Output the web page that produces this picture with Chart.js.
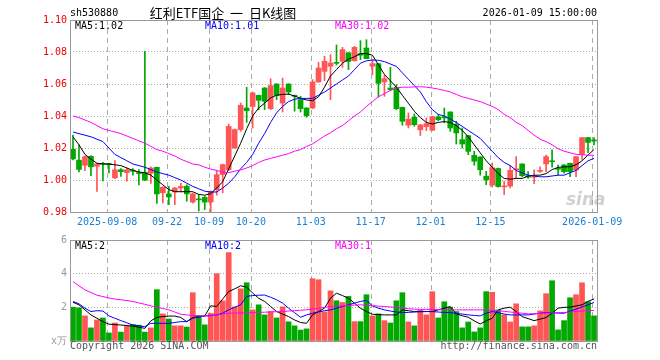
<!DOCTYPE html>
<html>
<head>
<meta charset="utf-8">
<script src="https://cdn.jsdelivr.net/npm/chart.js@4.4.1/dist/chart.umd.min.js"></script>
<style>
body { margin: 0; background: #fff; }
#wrap { position: relative; width: 660px; height: 360px; overflow: hidden; font-family: 'DejaVu Sans Mono', monospace; font-size: 10px; }
.t { position: absolute; line-height: 12px; white-space: pre; }
canvas { position: absolute; left: 0; }
</style>
</head>
<body>
<div id="wrap">
  <canvas id="kline" width="660" height="230" style="top:0"></canvas>
  <canvas id="vol" width="660" height="130" style="top:230px"></canvas>
  <div class="t" style="left:70px;top:7px">sh530880</div>
  <div class="t" style="left:223px;top:5px;transform:translateX(-50%);font-family:'Noto Sans CJK SC',sans-serif;font-size:13px;line-height:16px">红利ETF国企  一  日K线图</div>
  <div class="t" style="right:63px;top:7px">2026-01-09 15:00:00</div>
  <div class="t" style="left:75px;top:20px;color:#000">MA5:1.02</div>
  <div class="t" style="left:205px;top:20px;color:#0000ff">MA10:1.01</div>
  <div class="t" style="left:335px;top:20px;color:#ff00ff">MA30:1.02</div>
  <div class="t" style="left:75px;top:240px;color:#000">MA5:2</div>
  <div class="t" style="left:205px;top:240px;color:#0000ff">MA10:2</div>
  <div class="t" style="left:335px;top:240px;color:#ff00ff">MA30:1</div>
  <div class="t" style="left:70px;top:340px;color:#555">Copyright 2026 SINA.COM</div>
  <div class="t" style="right:63px;top:340px;color:#555">http://finance.sina.com.cn</div>
  <div class="t" style="left:566px;top:190px;font-family:'DejaVu Sans',sans-serif;font-size:17px;line-height:18px;font-weight:bold;font-style:italic;color:rgba(150,150,150,0.45)">sina</div>
</div>
<script>
// trading days shown, oldest first
const dates = [
  '2025-08-29', '2025-09-01', '2025-09-02', '2025-09-03', '2025-09-04', '2025-09-05',
  '2025-09-08', '2025-09-09', '2025-09-10', '2025-09-11', '2025-09-12',
  '2025-09-15', '2025-09-16', '2025-09-17', '2025-09-18', '2025-09-19',
  '2025-09-22', '2025-09-23', '2025-09-24', '2025-09-25', '2025-09-26',
  '2025-09-29', '2025-09-30', '2025-10-09', '2025-10-10',
  '2025-10-13', '2025-10-14', '2025-10-15', '2025-10-16', '2025-10-17',
  '2025-10-20', '2025-10-21', '2025-10-22', '2025-10-23', '2025-10-24',
  '2025-10-27', '2025-10-28', '2025-10-29', '2025-10-30', '2025-10-31',
  '2025-11-03', '2025-11-04', '2025-11-05', '2025-11-06', '2025-11-07',
  '2025-11-10', '2025-11-11', '2025-11-12', '2025-11-13', '2025-11-14',
  '2025-11-17', '2025-11-18', '2025-11-19', '2025-11-20', '2025-11-21',
  '2025-11-24', '2025-11-25', '2025-11-26', '2025-11-27', '2025-11-28',
  '2025-12-01', '2025-12-02', '2025-12-03', '2025-12-04', '2025-12-05',
  '2025-12-08', '2025-12-09', '2025-12-10', '2025-12-11', '2025-12-12',
  '2025-12-15', '2025-12-16', '2025-12-17', '2025-12-18', '2025-12-19',
  '2025-12-22', '2025-12-23', '2025-12-24', '2025-12-25', '2025-12-26',
  '2025-12-29', '2025-12-30', '2025-12-31',
  '2026-01-05', '2026-01-06', '2026-01-07', '2026-01-08', '2026-01-09'
];

// which days get a label + dashed grid line
const tickIdx = [6, 16, 23, 30, 40, 50, 60, 70, 87];
const tickText = ['2025-09-08', '09-22', '10-09', '10-20', '11-03', '11-17', '12-01', '12-15', '2026-01-09'];

const opens = [
  1.0193, 1.0124, 1.0092, 1.0148, 1.0086, 1.0102, 1.0100, 1.0014, 1.0064, 1.0046,
  1.0060, 1.0046, 1.0049, 1.0042, 1.0079, 0.9920, 0.9913, 0.9925, 0.9950, 0.9960,
  0.9862, 0.9880, 0.9891, 0.9862, 0.9940, 1.0034, 1.0065, 1.0200, 1.0315, 1.0450,
  1.0460, 1.0529, 1.0575, 1.0446, 1.0600, 1.0481, 1.0600, 1.0529, 1.0502, 1.0450,
  1.0450, 1.0613, 1.0679, 1.0711, 1.0735, 1.0742, 1.0795, 1.0746, 1.0790, 1.0825,
  1.0711, 1.0727, 1.0613, 1.0575, 1.0579, 1.0454, 1.0342, 1.0392, 1.0314, 1.0333,
  1.0311, 1.0394, 1.0394, 1.0425, 1.0346, 1.0252, 1.0277, 1.0154, 1.0144, 1.0024,
  0.9968, 1.0072, 0.9957, 0.9962, 1.0064, 1.0100, 1.0027, 1.0017, 1.0054, 1.0100,
  1.0120, 1.0073, 1.0094, 1.0104, 1.0063, 1.0162, 1.0265, 1.0250
];
const highs = [
  1.0280, 1.0220, 1.0150, 1.0152, 1.0104, 1.0110, 1.0104, 1.0121, 1.0071, 1.0075,
  1.0072, 1.0065, 1.0804, 1.0083, 1.0080, 0.9958, 0.9960, 0.9954, 0.9980, 0.9970,
  0.9919, 0.9910, 0.9898, 0.9932, 1.0060, 1.0100, 1.0350, 1.0319, 1.0481, 1.0580,
  1.0550, 1.0531, 1.0577, 1.0633, 1.0602, 1.0637, 1.0602, 1.0531, 1.0523, 1.0452,
  1.0627, 1.0735, 1.0773, 1.0783, 1.0844, 1.0829, 1.0797, 1.0835, 1.0871, 1.0877,
  1.0752, 1.0729, 1.0654, 1.0704, 1.0596, 1.0456, 1.0419, 1.0413, 1.0348, 1.0388,
  1.0398, 1.0409, 1.0450, 1.0427, 1.0367, 1.0325, 1.0279, 1.0179, 1.0146, 1.0054,
  1.0106, 1.0074, 0.9992, 1.0090, 1.0146, 1.0102, 1.0052, 1.0063, 1.0083, 1.0156,
  1.0188, 1.0094, 1.0096, 1.0106, 1.0146, 1.0265, 1.0267, 1.0265
];
const lows = [
  1.0125, 1.0050, 1.0059, 1.0027, 0.9928, 0.9995, 1.0045, 1.0008, 1.0023, 0.9992,
  1.0030, 0.9970, 0.9996, 0.9979, 0.9854, 0.9856, 0.9846, 0.9846, 0.9925, 0.9867,
  0.9856, 0.9806, 0.9815, 0.9802, 0.9905, 0.9920, 1.0058, 1.0198, 1.0304, 1.0360,
  1.0325, 1.0440, 1.0440, 1.0440, 1.0502, 1.0425, 1.0533, 1.0430, 1.0425, 1.0392,
  1.0446, 1.0610, 1.0621, 1.0502, 1.0719, 1.0704, 1.0690, 1.0742, 1.0752, 1.0758,
  1.0658, 1.0519, 1.0523, 1.0558, 1.0440, 1.0342, 1.0325, 1.0336, 1.0278, 1.0309,
  1.0309, 1.0371, 1.0357, 1.0304, 1.0225, 1.0200, 1.0158, 1.0092, 1.0030, 0.9971,
  0.9956, 0.9955, 0.9909, 0.9950, 1.0010, 1.0021, 1.0010, 0.9977, 1.0048, 1.0052,
  1.0080, 1.0031, 1.0042, 1.0021, 1.0021, 1.0129, 1.0171, 1.0219
];
const closes = [
  1.0132, 1.0066, 1.0146, 1.0082, 1.0101, 1.0098, 1.0096, 1.0064, 1.0052, 1.0064,
  1.0055, 1.0040, 0.9999, 1.0075, 0.9913, 0.9955, 0.9894, 0.9950, 0.9960, 0.9913,
  0.9913, 0.9876, 0.9862, 0.9929, 1.0033, 1.0096, 1.0335, 1.0315, 1.0467, 1.0433,
  1.0544, 1.0498, 1.0492, 1.0590, 1.0529, 1.0575, 1.0550, 1.0523, 1.0446, 1.0402,
  1.0613, 1.0700, 1.0742, 1.0731, 1.0729, 1.0815, 1.0741, 1.0829, 1.0780, 1.0758,
  1.0727, 1.0604, 1.0633, 1.0565, 1.0446, 1.0367, 1.0381, 1.0346, 1.0344, 1.0352,
  1.0396, 1.0377, 1.0388, 1.0325, 1.0294, 1.0225, 1.0179, 1.0117, 1.0064, 1.0001,
  1.0077, 0.9959, 0.9962, 1.0060, 1.0069, 1.0027, 1.0018, 1.0026, 1.0060, 1.0146,
  1.0114, 1.0067, 1.0052, 1.0052, 1.0146, 1.0265, 1.0235, 1.0244
];

// price moving averages as drawn
const ma5 = [
  1.027, 1.022, 1.016, 1.013, 1.0105, 1.010, 1.010, 1.0095, 1.009, 1.0075,
  1.006, 1.005, 1.0045, 1.003, 1.000, 0.997, 0.994, 0.9927, 0.9927, 0.9927,
  0.9927, 0.991, 0.9905, 0.9915, 0.995, 0.999, 1.007, 1.015, 1.023, 1.032,
  1.040, 1.045, 1.048, 1.0513, 1.053, 1.0535, 1.0537, 1.0525, 1.051, 1.050,
  1.0496, 1.052, 1.058, 1.065, 1.069, 1.073, 1.0755, 1.077, 1.079, 1.079,
  1.078, 1.072, 1.066, 1.062, 1.058, 1.053, 1.048, 1.043, 1.039, 1.036,
  1.035, 1.036, 1.0365, 1.036, 1.034, 1.031, 1.027, 1.022, 1.017, 1.012,
  1.008, 1.004, 1.001, 1.0005, 1.001, 1.001, 1.0025, 1.003, 1.003, 1.004,
  1.0065, 1.0079, 1.0082, 1.0083, 1.0095, 1.012, 1.0156, 1.019
];
const ma10 = [
  1.030, 1.029, 1.028, 1.027, 1.0255, 1.024, 1.020, 1.016, 1.014, 1.012,
  1.010, 1.009, 1.008, 1.0065, 1.005, 1.004, 1.003, 1.0015, 1.000, 0.998,
  0.996, 0.9945, 0.993, 0.9925, 0.9925, 0.995, 0.998, 1.002, 1.007, 1.011,
  1.016, 1.023, 1.029, 1.036, 1.042, 1.046, 1.049, 1.0505, 1.051, 1.051,
  1.051, 1.053, 1.055, 1.0575, 1.060, 1.0625, 1.065, 1.069, 1.073, 1.0745,
  1.075, 1.0748, 1.074, 1.0725, 1.071, 1.067, 1.063, 1.059, 1.055, 1.049,
  1.044, 1.041, 1.040, 1.038, 1.036, 1.0335, 1.031, 1.0285, 1.026, 1.022,
  1.018, 1.014, 1.011, 1.009, 1.006, 1.0045, 1.003, 1.0025, 1.002, 1.002,
  1.0025, 1.003, 1.003, 1.0045, 1.006, 1.009, 1.012, 1.0135
];
const ma30 = [
  1.040, 1.039, 1.0375, 1.036, 1.034, 1.032, 1.031, 1.030, 1.029, 1.0275,
  1.026, 1.0245, 1.023, 1.021, 1.019, 1.018, 1.0165, 1.015, 1.013, 1.0115,
  1.010, 1.0095, 1.008, 1.0068, 1.006, 1.005, 1.0046, 1.0055, 1.0063, 1.0075,
  1.009, 1.011, 1.0125, 1.0135, 1.0145, 1.0155, 1.0165, 1.018, 1.019, 1.021,
  1.0225, 1.025, 1.0275, 1.0295, 1.032, 1.034, 1.037, 1.040, 1.0425, 1.046,
  1.049, 1.052, 1.054, 1.056, 1.0575, 1.058, 1.058, 1.0582, 1.0583, 1.058,
  1.0575, 1.0568, 1.056, 1.055, 1.0535, 1.052, 1.051, 1.050, 1.049, 1.0475,
  1.046, 1.044, 1.041, 1.039, 1.036, 1.034, 1.031, 1.028, 1.0255, 1.024,
  1.022, 1.0195, 1.018, 1.017, 1.016, 1.0158, 1.0155, 1.0154
];

// volume, unit 万
const volumes = [
  2.01, 1.97, 1.49, 0.78, 1.25, 1.37, 0.48, 1.07, 0.53, 0.88,
  0.98, 0.94, 0.53, 0.78, 3.05, 1.61, 1.31, 0.90, 0.90, 0.83,
  2.87, 1.51, 0.96, 1.64, 4.00, 2.39, 5.25, 2.03, 3.10, 3.46,
  1.85, 2.15, 1.55, 1.75, 1.37, 2.03, 1.14, 0.90, 0.65, 0.72,
  3.70, 3.64, 1.73, 2.98, 2.39, 2.29, 2.65, 1.15, 1.15, 2.75,
  1.49, 1.61, 1.21, 1.07, 2.39, 2.87, 1.13, 0.90, 1.85, 1.55,
  2.93, 1.37, 2.33, 2.01, 1.75, 0.78, 1.13, 0.54, 0.78, 2.93,
  2.89, 1.85, 1.55, 1.13, 2.21, 0.84, 0.84, 0.90, 1.79, 2.81,
  3.58, 0.66, 1.21, 2.57, 2.75, 3.46, 2.33, 1.49
];
const volMa5 = [
  2.30, 2.15, 1.85, 1.55, 1.35, 1.15, 1.00, 0.97, 0.95, 0.92,
  0.88, 0.82, 0.75, 1.20, 1.40, 1.45, 1.48, 1.48, 1.40, 1.15,
  1.40, 1.45, 1.49, 2.09, 2.05, 2.50, 2.94, 3.10, 3.28, 3.20,
  2.85, 2.54, 2.35, 2.05, 1.75, 1.60, 1.45, 1.25, 1.10, 1.05,
  1.55, 1.75, 1.95, 2.54, 2.84, 2.70, 2.54, 2.25, 1.95, 1.75,
  1.59, 1.57, 1.55, 1.55, 1.55, 1.85, 1.80, 1.75, 1.75, 1.75,
  1.75, 1.85, 1.95, 2.05, 1.61, 1.50, 1.41, 1.20, 1.01, 1.20,
  1.35, 1.85, 1.95, 2.01, 1.75, 1.45, 1.33, 1.21, 1.30, 1.39,
  1.65, 1.95, 2.00, 2.01, 2.08, 2.15, 2.35, 2.50
];
const volMa10 = [
  2.35, 2.21, 1.95, 1.75, 1.80, 1.78, 1.49, 1.35, 1.21, 1.08,
  0.95, 0.90, 0.85, 1.05, 1.05, 1.05, 1.05, 1.10, 1.15, 1.15,
  1.35, 1.42, 1.49, 1.52, 1.55, 1.65, 1.85, 2.00, 2.15, 2.65,
  2.70, 2.72, 2.73, 2.60, 2.45, 2.25, 1.95, 1.68, 1.41, 1.55,
  1.65, 1.72, 1.80, 1.85, 1.95, 2.05, 2.15, 2.25, 2.35, 2.41,
  2.09, 1.95, 1.85, 1.78, 1.72, 1.69, 1.70, 1.72, 1.74, 1.75,
  1.75, 1.72, 1.70, 1.69, 1.64, 1.60, 1.55, 1.52, 1.49, 1.65,
  1.75, 1.68, 1.60, 1.55, 1.55, 1.55, 1.55, 1.60, 1.65, 1.69,
  1.68, 1.66, 1.65, 1.77, 1.89, 2.02, 2.15, 2.29
];
const volMa30 = [
  3.53, 3.28, 3.04, 2.88, 2.72, 2.64, 2.56, 2.49, 2.45, 2.40,
  2.35, 2.26, 2.18, 2.09, 2.01, 1.93, 1.85, 1.72, 1.59, 1.55,
  1.52, 1.49, 1.49, 1.49, 1.54, 1.60, 1.65, 1.66, 1.67, 1.68,
  1.69, 1.70, 1.71, 1.73, 1.74, 1.75, 1.78, 1.80, 1.83, 1.85,
  1.90, 1.95, 2.00, 2.05, 2.07, 2.09, 2.11, 2.13, 2.15, 2.12,
  2.10, 2.07, 2.05, 2.02, 1.99, 1.96, 1.92, 1.89, 1.88, 1.88,
  1.87, 1.86, 1.86, 1.85, 1.85, 1.85, 1.85, 1.85, 1.85, 1.85,
  1.83, 1.80, 1.76, 1.72, 1.69, 1.65, 1.61, 1.62, 1.64, 1.66,
  1.67, 1.68, 1.69, 1.72, 1.75, 1.78, 1.81, 1.81
];

const UP = '#ff5555';
const DOWN = '#00a800';
const candleColors = closes.map((c, i) => c >= opens[i] ? UP : DOWN);

Chart.defaults.font.family = "'DejaVu Sans Mono', monospace";
Chart.defaults.font.size = 10;
Chart.defaults.animation = false;

// gray box round each plot area
const framePlugin = {
  id: 'frame',
  afterDraw(chart) {
    const { ctx, chartArea: a } = chart;
    ctx.save();
    ctx.strokeStyle = '#999';
    ctx.lineWidth = 1;
    ctx.strokeRect(Math.round(a.left) + 0.5, Math.round(a.top) + 0.5,
      Math.round(a.right - a.left), Math.round(a.bottom - a.top));
    ctx.restore();
  }
};

// dashed vertical lines at the labelled days, in both panels
const dayLinesPlugin = {
  id: 'dayLines',
  beforeDatasetsDraw(chart) {
    const { ctx, chartArea: a, scales } = chart;
    ctx.save();
    ctx.strokeStyle = '#aaa';
    ctx.lineWidth = 1;
    ctx.setLineDash([5, 4]);
    tickIdx.forEach(v => {
      const x = Math.round(scales.x.getPixelForValue(v - 0.3)) + 0.5;
      ctx.beginPath();
      ctx.moveTo(x, a.top);
      ctx.lineTo(x, a.bottom);
      ctx.stroke();
    });
    ctx.restore();
  }
};

function xAxis(showLabels, height) {
  return {
    type: 'linear',
    min: -0.5,
    max: dates.length - 0.5,
    bounds: 'data',
    offset: false,
    afterBuildTicks: s => { s.ticks = tickIdx.map(v => ({ value: v - 0.3 })); },
    afterFit: s => { s.height = height; },
    ticks: {
      display: showLabels,
      color: '#1a7fd4',
      padding: 4,
      maxRotation: 0,
      autoSkip: false,
      callback: (v, i) => tickText[i]
    },
    grid: { display: false, drawTicks: false },
    border: { display: false }
  };
}

function line(values, color) {
  return {
    type: 'line',
    data: values.map((v, i) => ({ x: i, y: v })),
    borderColor: color,
    borderWidth: 1,
    pointRadius: 0,
    tension: 0,
    order: 0
  };
}

const plainOptions = {
  responsive: false,
  plugins: { legend: { display: false }, tooltip: { enabled: false } }
};

new Chart(document.getElementById('kline'), {
  type: 'bar',
  data: {
    datasets: [
      {
        data: lows.map((l, i) => ({ x: i, y: [l, highs[i]] })),
        backgroundColor: candleColors,
        barThickness: 1,
        grouped: false,
        order: 3
      },
      {
        data: opens.map((o, i) => ({ x: i, y: [o, closes[i]] })),
        backgroundColor: candleColors,
        barThickness: 5,
        minBarLength: 1,
        grouped: false,
        order: 2
      },
      line(ma30, '#ff00ff'),
      line(ma10, '#0000ff'),
      line(ma5, '#000000')
    ]
  },
  options: {
    ...plainOptions,
    layout: { padding: { left: 0, right: 63, top: 20, bottom: 0 } },
    scales: {
      x: xAxis(true, 18),
      y: {
        min: 0.98,
        max: 1.10,
        afterFit: s => { s.width = 70; },
        ticks: { stepSize: 0.02, color: '#ee0000', padding: 3, callback: v => v.toFixed(2) },
        grid: { color: '#aaa', drawTicks: false },
        border: { display: false, dash: [1, 2] }
      }
    }
  },
  plugins: [dayLinesPlugin, framePlugin]
});

new Chart(document.getElementById('vol'), {
  type: 'bar',
  data: {
    datasets: [
      {
        data: volumes.map((v, i) => ({ x: i, y: v })),
        backgroundColor: candleColors,
        barThickness: 5,
        grouped: false,
        order: 2
      },
      line(volMa30, '#ff00ff'),
      line(volMa10, '#0000ff'),
      line(volMa5, '#000000')
    ]
  },
  options: {
    ...plainOptions,
    layout: { padding: { left: 0, right: 63, top: 10, bottom: 0 } },
    scales: {
      x: xAxis(false, 19),
      y: {
        min: 0,
        max: 6,
        afterFit: s => { s.width = 70; },
        ticks: { stepSize: 2, color: '#999', padding: 3, callback: v => v === 0 ? 'x万' : v },
        grid: { color: '#aaa', drawTicks: false },
        border: { display: false, dash: [1, 2] }
      }
    }
  },
  plugins: [dayLinesPlugin, framePlugin]
});
</script>
</body>
</html>
